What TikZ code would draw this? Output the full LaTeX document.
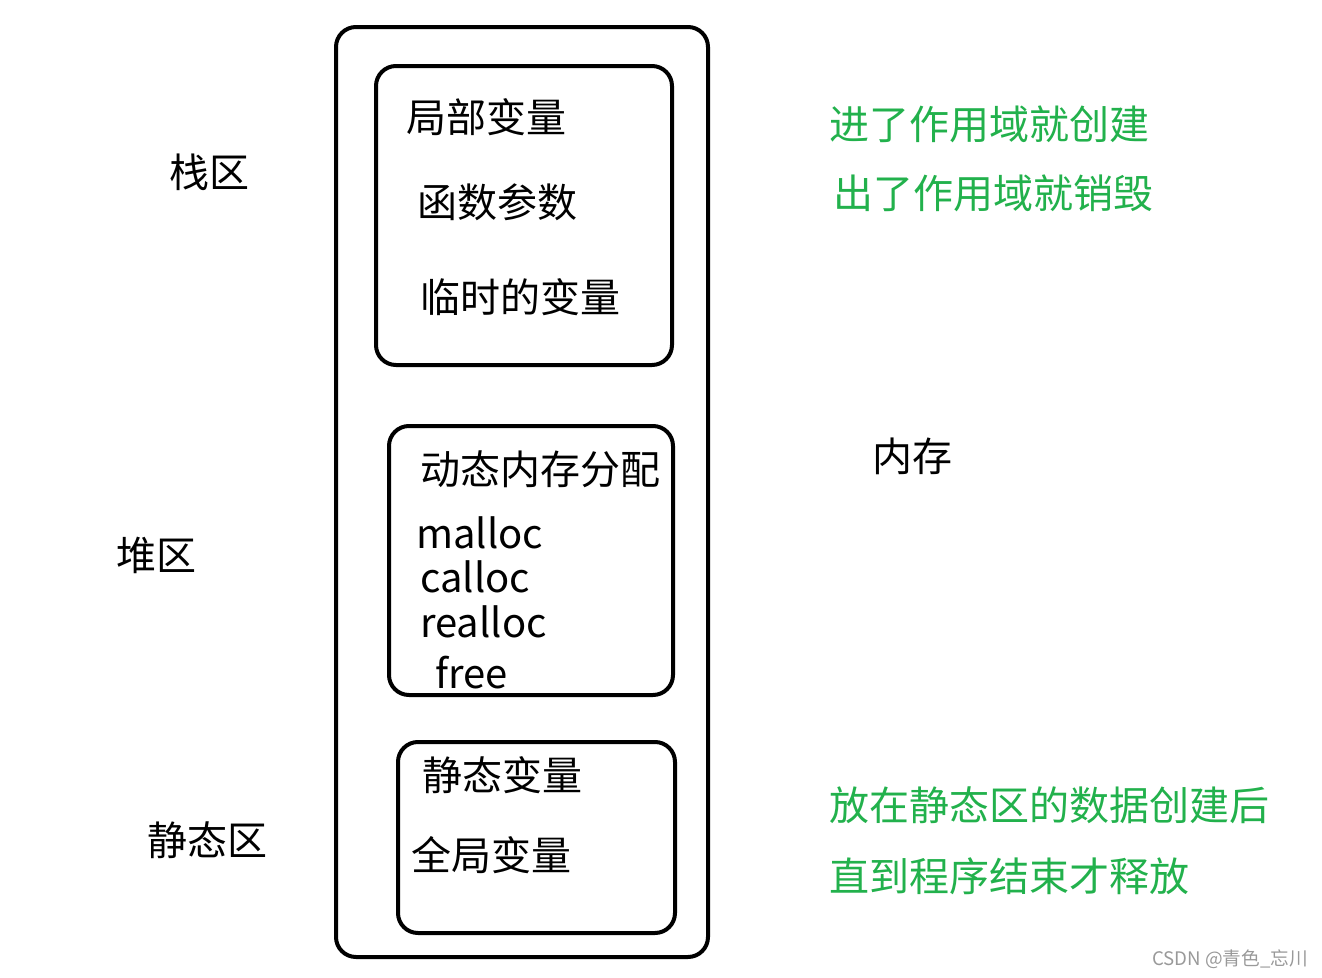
\documentclass[tikz,border=0pt]{standalone}
\usepackage{fontspec}
\setmainfont{Noto Sans CJK SC}
\definecolor{paintgreen}{RGB}{34,177,76}
\begin{document}
\begin{tikzpicture}[x=0.75pt,y=-0.75pt,
  box/.style={draw=black,line width=3pt,rounded corners=15pt},
  txt/.style={anchor=west,inner sep=0pt,font=\fontsize{30}{36}\selectfont},
  gtxt/.style={txt,text=paintgreen},
  wm/.style={anchor=west,inner sep=0pt,text=gray!80,font=\fontsize{14}{16}\selectfont}]
\useasboundingbox (0,0) rectangle (1322,978);
% boxes
\draw[box] (336,27) rectangle (708,957);
\draw[box] (376,66) rectangle (672,365);
\draw[box] (389,426) rectangle (673,695);
\draw[box] (398,742) rectangle (675,933);
% left labels
\node[txt] (zhan) at (169,172) {栈区};
\node[txt] (dui) at (116,555) {堆区};
\node[txt] (jing) at (147,840) {静态区};
% stack box
\node[txt] (t1) at (406,117) {局部变量};
\node[txt] (t2) at (417,202) {函数参数};
\node[txt] (t3) at (420,297) {临时的变量};
% heap box
\node[txt] (h0) at (420,469) {动态内存分配};
\node[txt] (h1) at (416,533) {malloc};
\node[txt] (h2) at (420,577) {calloc};
\node[txt] (h3) at (420,622) {realloc};
\node[txt] (h4) at (435,673) {free};
% static box
\node[txt] (s1) at (422,775) {静态变量};
\node[txt] (s2) at (411,855) {全局变量};
% right
\node[gtxt] (g1) at (829,124) {进了作用域就创建};
\node[gtxt] (g2) at (833,193) {出了作用域就销毁};
\node[txt] (nc) at (872,456) {内存};
\node[gtxt] (g3) at (829,805) {放在静态区的数据创建后};
\node[gtxt] (g4) at (829,876) {直到程序结束才释放};
\node[wm] (w) at (1152,959) {CSDN @青色\_忘川};
\end{tikzpicture}
\end{document}
